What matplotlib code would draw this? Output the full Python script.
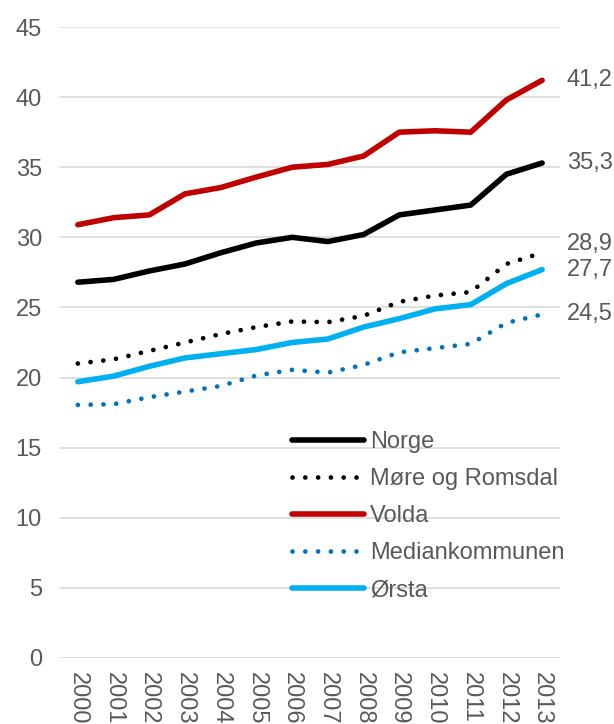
import matplotlib
matplotlib.use("Agg")
import matplotlib.pyplot as plt

years = [str(y) for y in range(2000, 2014)]
norge = [26.8, 27.0, 27.6, 28.1, 28.9, 29.6, 30.0, 29.7, 30.2, 31.6, 31.95, 32.3, 34.5, 35.3]
more_romsdal = [21.0, 21.3, 21.9, 22.5, 23.1, 23.6, 24.0, 23.95, 24.4, 25.4, 25.85, 26.1, 28.1, 28.9]
volda = [30.9, 31.4, 31.6, 33.1, 33.55, 34.3, 35.0, 35.2, 35.8, 37.5, 37.6, 37.5, 39.8, 41.2]
median = [18.05, 18.1, 18.6, 19.0, 19.4, 20.15, 20.55, 20.35, 20.9, 21.8, 22.1, 22.4, 23.9, 24.5]
orsta = [19.7, 20.1, 20.8, 21.4, 21.7, 22.0, 22.5, 22.75, 23.6, 24.2, 24.9, 25.2, 26.7, 27.7]

plt.rcParams["font.family"] = ["Liberation Sans", "DejaVu Sans"]
txt = "#595959"

fig = plt.figure(figsize=(6.14, 7.24), dpi=100)
ax = fig.add_axes([60 / 614, 1 - 658 / 724, 500 / 614, 631 / 724])

x = list(range(len(years)))
dot = (0, (0.01, 2.7))
ax.plot(x, norge, color="black", lw=4, solid_capstyle="round", label="Norge")
ax.plot(x, more_romsdal, color="black", lw=3.4, ls=dot, dash_capstyle="round",
        label="Møre og Romsdal")
ax.plot(x, volda, color="#C00000", lw=4, solid_capstyle="round", label="Volda")
ax.plot(x, median, color="#0070C0", lw=3.4, ls=dot, dash_capstyle="round",
        label="Mediankommunen")
ax.plot(x, orsta, color="#00B0F0", lw=4, solid_capstyle="round", label="Ørsta")

# end-of-line value labels
for series, dy in [(volda, 0), (norge, 0), (more_romsdal, 6), (orsta, 0), (median, 0)]:
    ax.annotate(f"{series[-1]:.1f}".replace(".", ","), xy=(13.5, series[-1]),
                xytext=(5, dy), textcoords="offset points", va="center", ha="left",
                fontsize=17, color=txt, annotation_clip=False)

ax.set_xlim(-0.5, 13.5)
ax.set_ylim(0, 45)
ax.set_yticks(range(0, 50, 5))
ax.set_xticks(x)
ax.set_xticklabels(years, rotation=270, va="top", ha="center")
ax.tick_params(length=0, labelsize=17, labelcolor=txt)
ax.tick_params(axis="y", pad=13)
ax.tick_params(axis="x", pad=10)
ax.grid(axis="y", color="#D9D9D9", lw=1.2)
ax.set_axisbelow(True)
for s in ax.spines.values():
    s.set_visible(False)

leg = ax.legend(loc="upper left", bbox_to_anchor=(0.445, 0.375), frameon=False,
                fontsize=17, handlelength=3.05, handletextpad=0.25,
                labelspacing=0.64, labelcolor=txt, borderaxespad=0)

fig.savefig("out.png", dpi=100)
